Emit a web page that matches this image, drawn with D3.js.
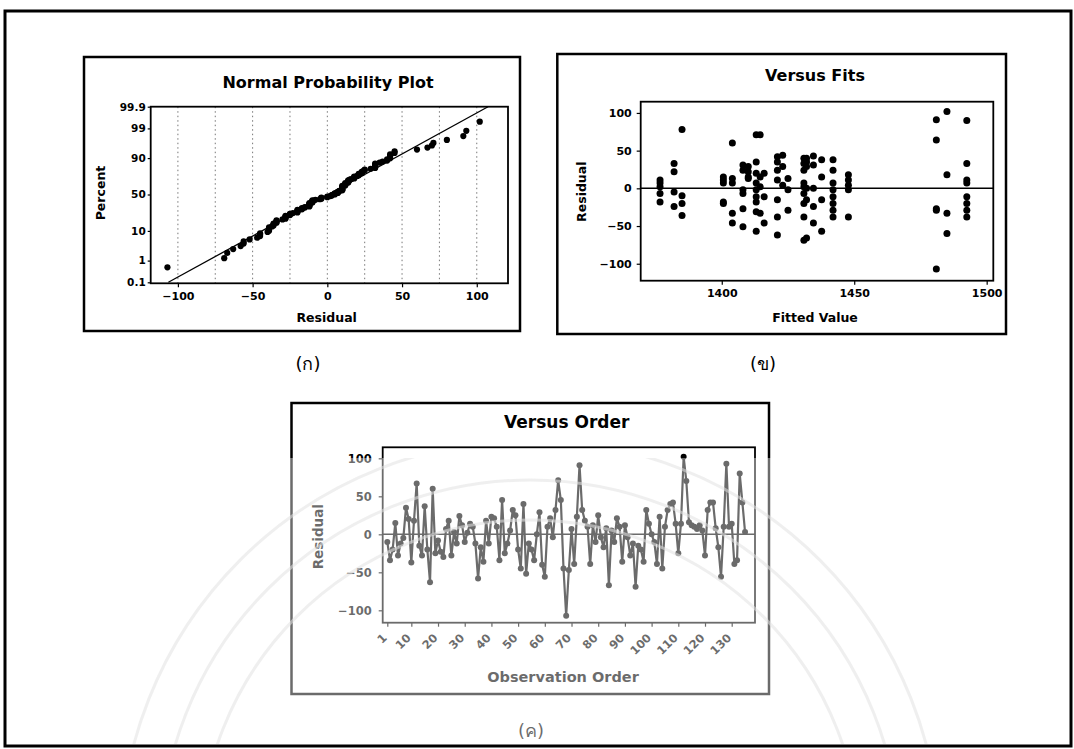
<!DOCTYPE html>
<html>
<head>
<meta charset="utf-8">
<script src="https://cdn.jsdelivr.net/npm/d3@7"></script>
<style>
  body { margin: 0; background: #fff; }
  svg text { font-family: "DejaVu Sans", sans-serif; }
</style>
</head>
<body>
<svg id="fig" width="1074" height="749"></svg>
<script>
// Residuals in observation order
const residuals = [
  -10, -34, -20, 15, -28, -12, -5, 35, 20, -37,
  18, 67, -15, -28, 37, -20, -63, 60, -25, -8,
  -23, -30, 7, 18, -28, 3, -12, 24, 12, -10,
  2, 14, 10, -12, -58, -17, -36, 18, -12, 23,
  21, 10, -34, 45, -25, -12, 5, 32, 25, -20,
  -45, 40, -52, -12, -20, -34, 0, 29, -40, -56,
  10, 21, -4, 32, 71, 45, -45, -107, -47, 7,
  -39, 23, 91, 32, 18, 10, -39, 12, -10, 25,
  -4, -17, 8, -67, 5, -10, 21, 10, -36, 12,
  -4, -28, -12, -69, -15, -20, -36, 32, 14, 0,
  -10, -39, 23, -45, 10, 32, 40, 42, 14, -25,
  14, 102, 70, 16, 12, 10, 7, 12, 5, -28,
  32, 42, 42, 8, -17, -56, 10, 93, 10, 14,
  -39, -34, 80, 42, 3
];

// Fitted-value levels and the residuals observed at each level
const fitLevels = [1376.7, 1382, 1385, 1400.6, 1404, 1408, 1410, 1413, 1414.5, 1416,
                   1421, 1423, 1425, 1431, 1432, 1434.6, 1437.7, 1442, 1447.8,
                   1481, 1485, 1492.5];
const residualsByFit = [
  [11, 7, 2, -7, -18],
  [33, 22, -5, -24],
  [78, -10, -20, -36],
  [15, 11, 7, -18, -20],
  [60, 13, 7, -33, -46],
  [31, 24, -2, -7, -27, -51],
  [29, 22, 15, 13],
  [71, 35, 20, 7, -2, -11, -18, -31, -57],
  [71, 15, 2, -33],
  [20, -11, -46],
  [42, 35, 24, 11, -15, -38, -62],
  [44, 29, 4],
  [13, -2, -29],
  [40, 33, 24, 7, 2, -7, -20, -38, -69],
  [40, 35, 29, 0, -15, -66],
  [43, 31, 0, -24, -46],
  [38, 15, -15, -57],
  [38, 24, 7, -2, -11, -20, -29, -38],
  [18, 11, 4, -2, -38],
  [91, 64, -27, -29, -107],
  [102, 18, -33, -60],
  [90, 33, 11, 7, -11, -20, -29, -38]
];

// Tick labels
const percentTicks = [0.1, 1, 10, 50, 90, 99, 99.9];
const residualTicks = [-100, -50, 0, 50, 100];
const residualGrid = [-100, -75, -50, -25, 0, 25, 50, 75, 100];
const fitTicks = [1400, 1450, 1500];
const orderTicks = [1, 10, 20, 30, 40, 50, 60, 70, 80, 90, 100, 110, 120, 130];
const panelLabels = ["(ก)", "(ข)", "(ค)"];
const titles = ["Normal Probability Plot", "Versus Fits", "Versus Order"];

// Inverse standard normal CDF (Acklam's rational approximation)
function normInv(p) {
  const a = [-3.969683028665376e+01, 2.209460984245205e+02, -2.759285104469687e+02,
             1.383577518672690e+02, -3.066479806614716e+01, 2.506628277459239e+00];
  const b = [-5.447609879822406e+01, 1.615858368580409e+02, -1.556989798598866e+02,
             6.680131188771972e+01, -1.328068155288572e+01];
  const c = [-7.784894002430293e-03, -3.223964580411365e-01, -2.400758277161838e+00,
             -2.549732539343734e+00, 4.374664141464968e+00, 2.938163982698783e+00];
  const d = [7.784695709041462e-03, 3.224671290700398e-01, 2.445134137142996e+00,
             3.754408661907416e+00];
  const pl = 0.02425, ph = 1 - pl;
  let q, r;
  if (p < pl) {
    q = Math.sqrt(-2 * Math.log(p));
    return (((((c[0]*q+c[1])*q+c[2])*q+c[3])*q+c[4])*q+c[5]) / ((((d[0]*q+d[1])*q+d[2])*q+d[3])*q+1);
  }
  if (p <= ph) {
    q = p - 0.5; r = q * q;
    return (((((a[0]*r+a[1])*r+a[2])*r+a[3])*r+a[4])*r+a[5])*q / (((((b[0]*r+b[1])*r+b[2])*r+b[3])*r+b[4])*r+1);
  }
  q = Math.sqrt(-2 * Math.log(1 - p));
  return -(((((c[0]*q+c[1])*q+c[2])*q+c[3])*q+c[4])*q+c[5]) / ((((d[0]*q+d[1])*q+d[2])*q+d[3])*q+1);
}

const svg = d3.select("#fig");
const defs = svg.append("defs");

function styleAxis(g, size) {
  g.attr("font-family", "DejaVu Sans").attr("font-size", size).attr("font-weight", "bold");
  g.select(".domain").remove();
  g.selectAll(".tick line").attr("stroke", "#000").attr("stroke-width", 1.2);
  g.selectAll(".tick text").attr("fill", "#000");
}

function frame(x, y, w, h, sw) {
  svg.append("rect").attr("x", x).attr("y", y).attr("width", w).attr("height", h)
    .attr("fill", "none").attr("stroke", "#000").attr("stroke-width", sw);
}

function text(x, y, str, size, opts = {}) {
  const t = svg.append("text").attr("x", x).attr("y", y).text(str)
    .attr("font-size", size).attr("font-weight", opts.weight || "bold")
    .attr("text-anchor", "middle").attr("fill", "#000");
  if (opts.rotate) t.attr("transform", `rotate(-90,${x},${y})`);
  if (opts.family) t.attr("font-family", opts.family);
  return t;
}

// ---------- Page border ----------
svg.append("rect").attr("x", 5).attr("y", 11).attr("width", 1066).attr("height", 735)
  .attr("fill", "none").attr("stroke", "#000").attr("stroke-width", 3);

// ---------- Panel 1: normal probability plot ----------
{
  const P = { left: 150.7, right: 508, top: 106.7, bottom: 283.3 };
  frame(84, 57, 436, 274, 2.5);
  const x = d3.scaleLinear().domain([-118.2, 120.9]).range([P.left, P.right]);
  const y = d3.scaleLinear().domain([-3.09, 3.09]).range([282.3, 106.7]);

  defs.append("clipPath").attr("id", "clip1").append("rect")
    .attr("x", P.left).attr("y", P.top).attr("width", P.right - P.left).attr("height", P.bottom - P.top);

  svg.append("g").selectAll("line").data(residualGrid).join("line")
    .attr("x1", d => x(d)).attr("x2", d => x(d)).attr("y1", P.top).attr("y2", P.bottom)
    .attr("stroke", "#777").attr("stroke-width", 1).attr("stroke-dasharray", "1.5,3");

  const n = residuals.length;
  const sorted = residuals.slice().sort(d3.ascending);
  const pts = sorted.map((v, i) => ({ v, z: normInv((i + 1 - 0.3) / (n + 0.4)) }));
  const mu = d3.mean(residuals), sd = d3.deviation(residuals);

  svg.append("line").attr("clip-path", "url(#clip1)")
    .attr("x1", x(mu + sd * -3.09)).attr("y1", y(-3.09))
    .attr("x2", x(mu + sd * 3.09)).attr("y2", y(3.09))
    .attr("stroke", "#000").attr("stroke-width", 1.3);

  svg.append("g").selectAll("circle").data(pts).join("circle")
    .attr("cx", d => x(d.v)).attr("cy", d => y(d.z)).attr("r", 3.1).attr("fill", "#000");

  frame(P.left, P.top, P.right - P.left, P.bottom - P.top, 1.8);

  svg.append("g").attr("transform", `translate(0,${P.bottom})`)
    .call(d3.axisBottom(x).tickValues(residualTicks).tickSize(4).tickPadding(5).tickFormat(d3.format("d")))
    .call(g => styleAxis(g, 11));
  svg.append("g").attr("transform", `translate(${P.left},0)`)
    .call(d3.axisLeft(y).tickValues(percentTicks.map(p => normInv(p / 100)))
      .tickFormat((d, i) => percentTicks[i]).tickSize(3).tickPadding(2))
    .call(g => styleAxis(g, 10.5));

  text(328, 87.5, titles[0], 16);
  text(326.7, 322, "Residual", 12.5);
  text(104.5, 193, "Percent", 12.5, { rotate: true });
}

// ---------- Panel 2: residuals versus fits ----------
{
  const P = { left: 640.7, right: 993.3, top: 101.7, bottom: 280.7 };
  frame(557.3, 54, 448.7, 280, 2.5);
  const x = d3.scaleLinear().domain([1369.4, 1502.5]).range([P.left, P.right]);
  const y = d3.scaleLinear().domain([-122.5, 114.9]).range([P.bottom, P.top]);

  const pts = fitLevels.flatMap((f, i) => residualsByFit[i].map(r => ({ f, r })));

  svg.append("line").attr("x1", P.left).attr("x2", P.right).attr("y1", y(0)).attr("y2", y(0))
    .attr("stroke", "#000").attr("stroke-width", 1.5);

  svg.append("g").selectAll("circle").data(pts).join("circle")
    .attr("cx", d => x(d.f)).attr("cy", d => y(d.r)).attr("r", 3.5).attr("fill", "#000");

  frame(P.left, P.top, P.right - P.left, P.bottom - P.top, 1.8);

  svg.append("g").attr("transform", `translate(0,${P.bottom})`)
    .call(d3.axisBottom(x).tickValues(fitTicks).tickSize(4).tickPadding(5).tickFormat(d3.format("d")))
    .call(g => styleAxis(g, 11));
  svg.append("g").attr("transform", `translate(${P.left},0)`)
    .call(d3.axisLeft(y).tickValues(residualTicks).tickSize(4).tickPadding(5).tickFormat(d3.format("d")))
    .call(g => styleAxis(g, 11));

  text(815, 81, titles[1], 16);
  text(815, 321.5, "Fitted Value", 12.5);
  text(586, 191.7, "Residual", 12.5, { rotate: true });
}

// ---------- Panel 3: residuals versus observation order ----------
{
  const P = { left: 382.7, right: 755, top: 447.3, bottom: 622.7 };
  frame(291.5, 403, 477.5, 291, 2.5);
  const x = d3.scaleLinear().domain([1, 130]).range([387.3, 731.7]);
  const y = d3.scaleLinear().domain([-116.3, 114.5]).range([P.bottom, P.top]);

  const pts = residuals.map((r, i) => ({ o: i + 1, r }));

  svg.append("line").attr("x1", P.left).attr("x2", P.right).attr("y1", y(0)).attr("y2", y(0))
    .attr("stroke", "#000").attr("stroke-width", 1.5);

  svg.append("path").datum(pts)
    .attr("d", d3.line().x(d => x(d.o)).y(d => y(d.r)))
    .attr("fill", "none").attr("stroke", "#000").attr("stroke-width", 2.2)
    .attr("stroke-linejoin", "round");

  svg.append("g").selectAll("circle").data(pts).join("circle")
    .attr("cx", d => x(d.o)).attr("cy", d => y(d.r)).attr("r", 3).attr("fill", "#000");

  frame(P.left, P.top, P.right - P.left, P.bottom - P.top, 1.8);

  svg.append("g").attr("transform", `translate(0,${P.bottom})`)
    .call(d3.axisBottom(x).tickValues(orderTicks).tickSize(4).tickFormat(d3.format("d")))
    .call(g => styleAxis(g, 11.5))
    .call(g => g.selectAll(".tick text")
      .attr("x", 0).attr("y", 0).attr("dy", "0.35em")
      .attr("text-anchor", "end")
      .attr("transform", "translate(-3,13) rotate(-45)"));
  svg.append("g").attr("transform", `translate(${P.left},0)`)
    .call(d3.axisLeft(y).tickValues(residualTicks).tickSize(4).tickPadding(7).tickFormat(d3.format("d")))
    .call(g => styleAxis(g, 11.5));

  text(566.7, 428, titles[2], 17);
  text(563, 682, "Observation Order", 14.5);
  text(323, 536.7, "Residual", 13.5, { rotate: true });
}

// ---------- Panel captions ----------
const thaiFont = '"Noto Sans Thai", "Loma", "Garuda", "Norasi", "Tlwg Typo", "Noto Sans", "DejaVu Sans", sans-serif';
text(308, 370, panelLabels[0], 18, { weight: "normal", family: thaiFont });
text(763, 370, panelLabels[1], 18, { weight: "normal", family: thaiFont });
text(531, 737, panelLabels[2], 18, { weight: "normal", family: thaiFont });

// ---------- Faint seal watermark over the lower part of the page ----------
defs.append("clipPath").attr("id", "wm").append("rect")
  .attr("x", 8).attr("y", 458).attr("width", 1060).attr("height", 286);
const wm = svg.append("g").attr("clip-path", "url(#wm)");
wm.append("rect").attr("x", 8).attr("y", 458).attr("width", 1060).attr("height", 286)
  .attr("fill", "#fff").attr("opacity", 0.42);
wm.selectAll("circle").data([330, 370, 410]).join("circle")
  .attr("cx", 530).attr("cy", 850).attr("r", d => d)
  .attr("fill", "none").attr("stroke", "#e2e2e2").attr("stroke-width", 3).attr("opacity", 0.55);
</script>
</body>
</html>
